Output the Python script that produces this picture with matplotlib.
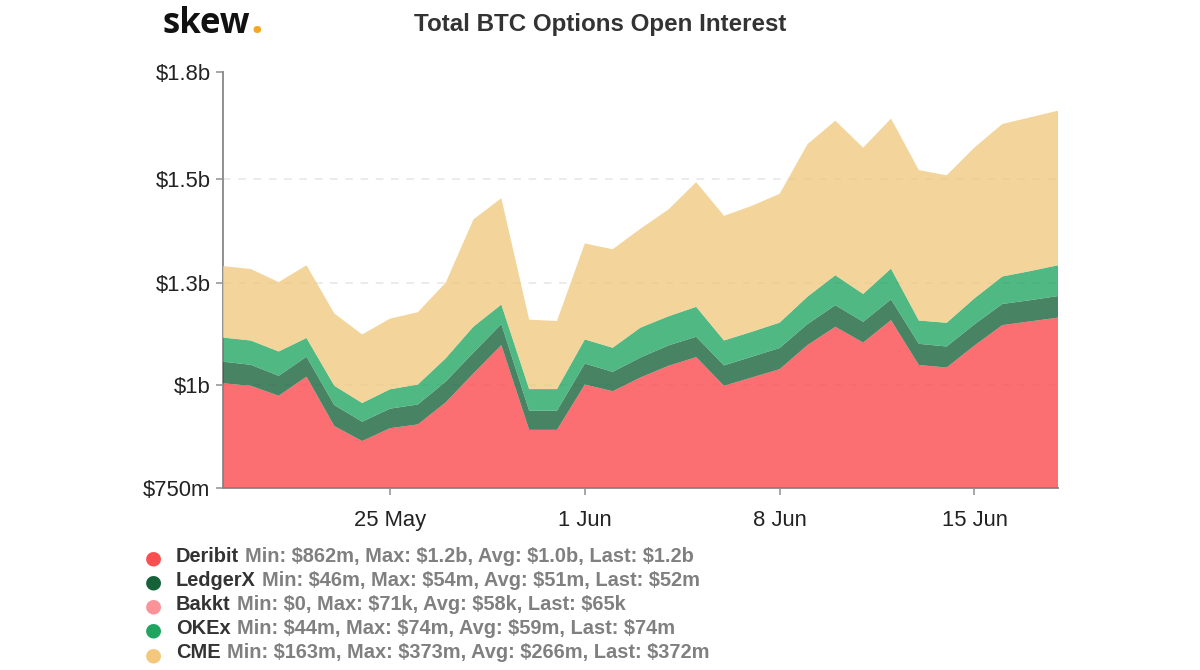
import matplotlib

matplotlib.use("Agg")  # headless
import matplotlib.pyplot as plt
import pandas as pd

plt.rcParams["font.family"] = ["Liberation Sans", "DejaVu Sans"]
plt.rcParams["text.parse_math"] = False

# all values in $m, one per day
dates = pd.date_range("2020-05-19", "2020-06-18", freq="D")
deribit = [1002, 996, 972, 1018, 899, 863, 894, 903, 956, 1026, 1094, 890, 890, 999, 983, 1016,
           1044, 1065, 996, 1016, 1036, 1094, 1138, 1100, 1154, 1046, 1040, 1093, 1142, 1151, 1160]
ledgerx = [52, 50.5, 48, 48, 50.5, 46.5, 47, 48, 50, 50, 50.5, 46, 46, 50.5, 46.5, 48,
           49, 49, 49, 50, 51, 50.5, 52, 50, 50, 51, 50.5, 51, 51, 51, 52]
bakkt = [0, 0, 0.04, 0.05, 0.05, 0.05, 0.06, 0.06, 0.06, 0.06, 0.06, 0.06, 0.06, 0.06, 0.06, 0.06,
         0.06, 0.06, 0.06, 0.06, 0.06, 0.06, 0.06, 0.06, 0.07, 0.07, 0.07, 0.07, 0.07, 0.07, 0.065]
okex = [58, 58.5, 58.5, 45, 46.5, 45, 46.5, 48, 56, 62.5, 47, 52, 52, 58, 58, 72,
        70, 72, 60, 60, 61, 66, 72, 67, 74, 56, 57, 62.5, 66, 70, 74]
cme = [172, 172, 167, 175, 174, 165, 170, 174, 182, 258, 256, 167, 164, 231, 237, 238,
       257, 300, 300, 303, 310, 367, 372, 352, 361, 362, 355, 363, 367, 370, 372]

series_names = ["Deribit", "LedgerX", "Bakkt", "OKEx", "CME"]
series_stats = [
    "Min: $862m, Max: $1.2b, Avg: $1.0b, Last: $1.2b",
    "Min: $46m, Max: $54m, Avg: $51m, Last: $52m",
    "Min: $0, Max: $71k, Avg: $58k, Last: $65k",
    "Min: $44m, Max: $74m, Avg: $59m, Last: $74m",
    "Min: $163m, Max: $373m, Avg: $266m, Last: $372m",
]
fill_colors = ["#FB4A4F", "#1A663C", "#FB8A8F", "#24A663", "#F0CA81"]
dot_colors = ["#F9504F", "#156138", "#FB9398", "#20A560", "#F3C87C"]

# tick spacing in the picture is not quite even, so these are as read
y_ticks = [750, 999, 1244, 1494, 1750]
y_labels = ["$750m", "$1b", "$1.3b", "$1.5b", "$1.8b"]
x_ticks = pd.to_datetime(["2020-05-25", "2020-06-01", "2020-06-08", "2020-06-15"])
x_labels = ["25 May", "1 Jun", "8 Jun", "15 Jun"]

W, H = 1200, 670
fig = plt.figure(figsize=(W / 100, H / 100), dpi=100)
ax = fig.add_axes([223 / W, 1 - 488 / H, 835 / W, 415.5 / H])

ax.stackplot(dates, deribit, ledgerx, bakkt, okex, cme, colors=fill_colors,
             alpha=0.8, linewidth=0, zorder=3)

ax.set_xlim(dates[0], dates[-1])
ax.set_ylim(750, 1750)
ax.set_yticks(y_ticks)
ax.set_yticklabels(y_labels)
ax.set_xticks(x_ticks)
ax.set_xticklabels(x_labels)
ax.tick_params(axis="both", length=5, width=1.1, color="#8f8f8f", labelcolor="#222222", labelsize=15.8)
ax.tick_params(axis="y", pad=4)
ax.tick_params(axis="x", pad=10.5)
ax.grid(True, axis="y", color="#e6e6e6", linestyle=(0, (5, 5)), linewidth=1.1, zorder=1)
ax.spines[["top", "right"]].set_visible(False)
ax.spines[["left", "bottom"]].set_color("#8f8f8f")
ax.spines[["left", "bottom"]].set_linewidth(1.4)

fig.text(600 / W, 1 - 25 / H, "Total BTC Options Open Interest", ha="center", va="center",
         fontsize=17.4, fontweight="bold", color="#333333")

# logo, drawn as two text pieces so the dot can be orange
logo = fig.text(163 / W, 1 - 33 / H, "skew", ha="left", va="baseline", family="Open Sans",
                fontsize=25, fontweight="bold", color="#111111")
fig.canvas.draw()
renderer = fig.canvas.get_renderer()
ext = logo.get_window_extent(renderer)
fig.text(ext.x1 / W, 1 - 33 / H, ".", ha="left", va="baseline", family="Open Sans",
         fontsize=32, fontweight="bold", color="#F5A623")

# legend rows: dot, bold name, grey stats
row_y = [556, 580, 604.5, 628.5, 653]
for name, stats, color, y in zip(series_names, series_stats, dot_colors, row_y):
    fig.text(153.5 / W, 1 - (y + 1.5) / H, "\u25cf", ha="center", va="center", fontsize=14,
             family="DejaVu Sans", color=color)
    t = fig.text(176 / W, 1 - y / H, name, ha="left", va="center", fontsize=14.36,
                 fontweight="bold", color="#333333")
    ext = t.get_window_extent(renderer)
    fig.text((ext.x1 + 6) / W, 1 - y / H, stats, ha="left", va="center", fontsize=14.36,
             fontweight="bold", color="#808080")

fig.savefig("out.png", dpi=100)
